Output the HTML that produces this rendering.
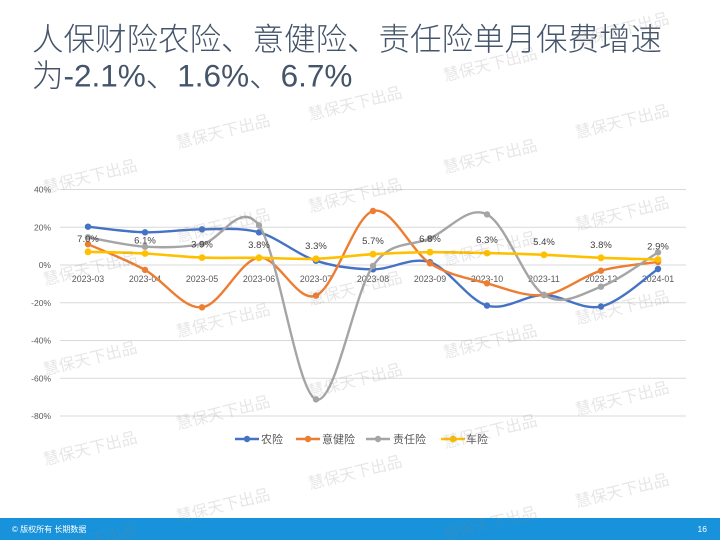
<!DOCTYPE html>
<html>
<head>
<meta charset="utf-8">
<style>
  html,body{margin:0;padding:0;background:#ffffff;}
  body{width:720px;height:540px;overflow:hidden;}
  svg{display:block;}
</style>
</head>
<body>
<svg width="720" height="540" viewBox="0 0 720 540" xmlns="http://www.w3.org/2000/svg">
  <rect x="0" y="0" width="720" height="540" fill="#ffffff"/>

  <!-- Title -->
  <g font-family="'Liberation Sans','Noto Sans CJK SC',sans-serif" font-size="31.5" fill="#44546A" font-weight="300">
    <text x="32" y="50">人保财险农险、意健险、责任险单月保费增速</text>
    <text x="32" y="86.5">为-2.1%、1.6%、6.7%</text>
  </g>

  <!-- Gridlines -->
  <g stroke="#d9d9d9" stroke-width="1">
    <line x1="60" y1="189.5" x2="686" y2="189.5"/>
    <line x1="60" y1="227.25" x2="686" y2="227.25"/>
    <line x1="60" y1="265" x2="686" y2="265"/>
    <line x1="60" y1="302.75" x2="686" y2="302.75"/>
    <line x1="60" y1="340.5" x2="686" y2="340.5"/>
    <line x1="60" y1="378.25" x2="686" y2="378.25"/>
    <line x1="60" y1="416" x2="686" y2="416"/>
  </g>

  <!-- Y axis labels -->
  <g font-family="'Liberation Sans',sans-serif" font-size="8.5" fill="#595959" text-anchor="end">
    <text x="51" y="192.5">40%</text>
    <text x="51" y="230.3">20%</text>
    <text x="51" y="268">0%</text>
    <text x="51" y="305.8">-20%</text>
    <text x="51" y="343.5">-40%</text>
    <text x="51" y="381.3">-60%</text>
    <text x="51" y="419">-80%</text>
  </g>

  <!-- X axis labels -->
  <g font-family="'Liberation Sans',sans-serif" font-size="8.8" fill="#595959" text-anchor="middle">
    <text x="88" y="282">2023-03</text>
    <text x="145" y="282">2023-04</text>
    <text x="202" y="282">2023-05</text>
    <text x="259" y="282">2023-06</text>
    <text x="316" y="282">2023-07</text>
    <text x="373" y="282">2023-08</text>
    <text x="430" y="282">2023-09</text>
    <text x="487" y="282">2023-10</text>
    <text x="544" y="282">2023-11</text>
    <text x="601" y="282">2023-12</text>
    <text x="658" y="282">2024-01</text>
  </g>

  <!-- Series: 农险 -->
  <path fill="none" stroke="#4472C4" stroke-width="2.4" stroke-linejoin="round" stroke-linecap="round"
    d="M88,226.7 C97.5,227.6 126,231.9 145,232.3 C164,232.7 183,229.3 202,229.3 C221,229.3 240,227.1 259,232.3 C278,237.5 297,254.5 316,260.7 C335,266.9 354,269.1 373,269.3 C392,269.6 411,256.2 430,262.2 C449,268.3 468,300.1 487,305.6 C506,311.1 525,294.9 544,295.0 C563,295.2 582,310.8 601,306.5 C620,302.2 648.5,275.3 658,269.0"/>
  <g fill="#4472C4">
    <circle cx="88" cy="226.7" r="3.2"/><circle cx="145" cy="232.3" r="3.2"/><circle cx="202" cy="229.3" r="3.2"/>
    <circle cx="259" cy="232.3" r="3.2"/><circle cx="316" cy="260.7" r="3.2"/><circle cx="373" cy="269.3" r="3.2"/>
    <circle cx="430" cy="262.2" r="3.2"/><circle cx="487" cy="305.6" r="3.2"/><circle cx="544" cy="295.0" r="3.2"/>
    <circle cx="601" cy="306.5" r="3.2"/><circle cx="658" cy="269.0" r="3.2"/>
  </g>

  <!-- Series: 意健险 -->
  <path fill="none" stroke="#ED7D31" stroke-width="2.4" stroke-linejoin="round" stroke-linecap="round"
    d="M88,244.2 C97.5,248.5 126,259.4 145,269.9 C164,280.4 183,309.4 202,307.3 C221,305.3 240,259.6 259,257.6 C278,255.7 297,303.4 316,295.6 C335,287.8 354,216.4 373,211.0 C392,205.6 411,251.3 430,263.3 C449,275.4 468,278.0 487,283.3 C506,288.6 525,297.1 544,295.0 C563,292.9 582,276.2 601,270.7 C620,265.2 648.5,263.5 658,262.0"/>
  <g fill="#ED7D31">
    <circle cx="88" cy="244.2" r="3.2"/><circle cx="145" cy="269.9" r="3.2"/><circle cx="202" cy="307.3" r="3.2"/>
    <circle cx="259" cy="257.6" r="3.2"/><circle cx="316" cy="295.6" r="3.2"/><circle cx="373" cy="211.0" r="3.2"/>
    <circle cx="430" cy="263.3" r="3.2"/><circle cx="487" cy="283.3" r="3.2"/><circle cx="544" cy="295.0" r="3.2"/>
    <circle cx="601" cy="270.7" r="3.2"/><circle cx="658" cy="262.0" r="3.2"/>
  </g>

  <!-- Series: 责任险 -->
  <path fill="none" stroke="#A5A5A5" stroke-width="2.4" stroke-linejoin="round" stroke-linecap="round"
    d="M88,237.3 C97.5,238.9 126,245.6 145,246.7 C164,247.8 183,247.6 202,244.0 C221,240.5 240,199.5 259,225.4 C278,251.3 297,392.7 316,399.4 C335,406.2 354,292.7 373,265.9 C392,239.1 411,247.0 430,238.4 C449,229.8 468,205.0 487,214.4 C506,223.8 525,283.0 544,295.0 C563,307.1 582,293.8 601,286.7 C620,279.6 648.5,258.1 658,252.4"/>
  <g fill="#A5A5A5">
    <circle cx="88" cy="237.3" r="3.2"/><circle cx="145" cy="246.7" r="3.2"/><circle cx="202" cy="244.0" r="3.2"/>
    <circle cx="259" cy="225.4" r="3.2"/><circle cx="316" cy="399.4" r="3.2"/><circle cx="373" cy="265.9" r="3.2"/>
    <circle cx="430" cy="238.4" r="3.2"/><circle cx="487" cy="214.4" r="3.2"/><circle cx="544" cy="295.0" r="3.2"/>
    <circle cx="601" cy="286.7" r="3.2"/><circle cx="658" cy="252.4" r="3.2"/>
  </g>

  <!-- Series: 车险 -->
  <path fill="none" stroke="#FFC000" stroke-width="2.6" stroke-linejoin="round" stroke-linecap="round"
    d="M88,251.8 C97.5,252.1 126,252.5 145,253.5 C164,254.5 183,256.9 202,257.6 C221,258.3 240,257.6 259,257.8 C278,258.0 297,259.4 316,258.8 C335,258.2 354,255.3 373,254.2 C392,253.1 411,252.4 430,252.2 C449,252.0 468,252.7 487,253.1 C506,253.5 525,254.0 544,254.8 C563,255.6 582,257.0 601,257.8 C620,258.6 648.5,259.2 658,259.5"/>
  <g fill="#FFC000">
    <circle cx="88" cy="251.8" r="3.4"/><circle cx="145" cy="253.5" r="3.4"/><circle cx="202" cy="257.6" r="3.4"/>
    <circle cx="259" cy="257.8" r="3.4"/><circle cx="316" cy="258.8" r="3.4"/><circle cx="373" cy="254.2" r="3.4"/>
    <circle cx="430" cy="252.2" r="3.4"/><circle cx="487" cy="253.1" r="3.4"/><circle cx="544" cy="254.8" r="3.4"/>
    <circle cx="601" cy="257.8" r="3.4"/><circle cx="658" cy="259.5" r="3.4"/>
  </g>

  <!-- Data labels -->
  <g font-family="'Liberation Sans',sans-serif" font-size="9.5" fill="#404040" text-anchor="middle">
    <text x="88" y="241.8">7.0%</text>
    <text x="145" y="243.5">6.1%</text>
    <text x="202" y="247.6">3.9%</text>
    <text x="259" y="247.8">3.8%</text>
    <text x="316" y="248.8">3.3%</text>
    <text x="373" y="244.2">5.7%</text>
    <text x="430" y="242.2">6.8%</text>
    <text x="487" y="243.1">6.3%</text>
    <text x="544" y="244.8">5.4%</text>
    <text x="601" y="247.8">3.8%</text>
    <text x="658" y="249.5">2.9%</text>
  </g>

  <!-- Legend -->
  <g font-family="'Liberation Sans','Noto Sans CJK SC',sans-serif" font-size="11" fill="#595959">
    <line x1="235" y1="439" x2="259" y2="439" stroke="#4472C4" stroke-width="2.4"/>
    <circle cx="247" cy="439" r="3.2" fill="#4472C4"/>
    <text x="261" y="443">农险</text>
    <line x1="296" y1="439" x2="320" y2="439" stroke="#ED7D31" stroke-width="2.4"/>
    <circle cx="308" cy="439" r="3.2" fill="#ED7D31"/>
    <text x="322" y="443">意健险</text>
    <line x1="366" y1="439" x2="390" y2="439" stroke="#A5A5A5" stroke-width="2.4"/>
    <circle cx="378" cy="439" r="3.2" fill="#A5A5A5"/>
    <text x="393" y="443">责任险</text>
    <line x1="441" y1="439" x2="465" y2="439" stroke="#FFC000" stroke-width="2.4"/>
    <circle cx="453" cy="439" r="3.4" fill="#FFC000"/>
    <text x="466" y="443">车险</text>
  </g>

  <!-- Footer -->
  <rect x="0" y="518" width="720" height="22" fill="#1893db"/>
  <text x="12" y="532" font-family="'Liberation Sans','Noto Sans CJK SC',sans-serif" font-size="8" fill="#ffffff">© 版权所有 长期数据</text>
  <text x="707" y="532" font-family="'Liberation Sans',sans-serif" font-size="8.5" fill="#ffffff" text-anchor="end">16</text>

  <!-- Watermarks -->
  <g font-family="'Noto Sans CJK SC',sans-serif" font-size="16" fill="#808080" fill-opacity="0.2" text-anchor="middle">
    <text transform="translate(90,176) rotate(-14)" dy="6">慧保天下出品</text>
    <text transform="translate(90,268) rotate(-14)" dy="6">慧保天下出品</text>
    <text transform="translate(90,358) rotate(-14)" dy="6">慧保天下出品</text>
    <text transform="translate(90,448) rotate(-14)" dy="6">慧保天下出品</text>
    <text transform="translate(90,540) rotate(-14)" dy="6">慧保天下出品</text>
    <text transform="translate(223,131) rotate(-14)" dy="6">慧保天下出品</text>
    <text transform="translate(223,225) rotate(-14)" dy="6">慧保天下出品</text>
    <text transform="translate(223,320) rotate(-14)" dy="6">慧保天下出品</text>
    <text transform="translate(223,412) rotate(-14)" dy="6">慧保天下出品</text>
    <text transform="translate(223,505) rotate(-14)" dy="6">慧保天下出品</text>
    <text transform="translate(355,103) rotate(-14)" dy="6">慧保天下出品</text>
    <text transform="translate(355,195) rotate(-14)" dy="6">慧保天下出品</text>
    <text transform="translate(355,288) rotate(-14)" dy="6">慧保天下出品</text>
    <text transform="translate(355,380) rotate(-14)" dy="6">慧保天下出品</text>
    <text transform="translate(355,472) rotate(-14)" dy="6">慧保天下出品</text>
    <text transform="translate(490,64) rotate(-14)" dy="6">慧保天下出品</text>
    <text transform="translate(490,156) rotate(-14)" dy="6">慧保天下出品</text>
    <text transform="translate(490,248) rotate(-14)" dy="6">慧保天下出品</text>
    <text transform="translate(490,341) rotate(-14)" dy="6">慧保天下出品</text>
    <text transform="translate(490,431) rotate(-14)" dy="6">慧保天下出品</text>
    <text transform="translate(490,523) rotate(-14)" dy="6">慧保天下出品</text>
    <text transform="translate(622,29) rotate(-14)" dy="6">慧保天下出品</text>
    <text transform="translate(622,121) rotate(-14)" dy="6">慧保天下出品</text>
    <text transform="translate(622,213) rotate(-14)" dy="6">慧保天下出品</text>
    <text transform="translate(622,307) rotate(-14)" dy="6">慧保天下出品</text>
    <text transform="translate(622,398) rotate(-14)" dy="6">慧保天下出品</text>
    <text transform="translate(622,490) rotate(-14)" dy="6">慧保天下出品</text>
  </g>
</svg>
</body>
</html>
